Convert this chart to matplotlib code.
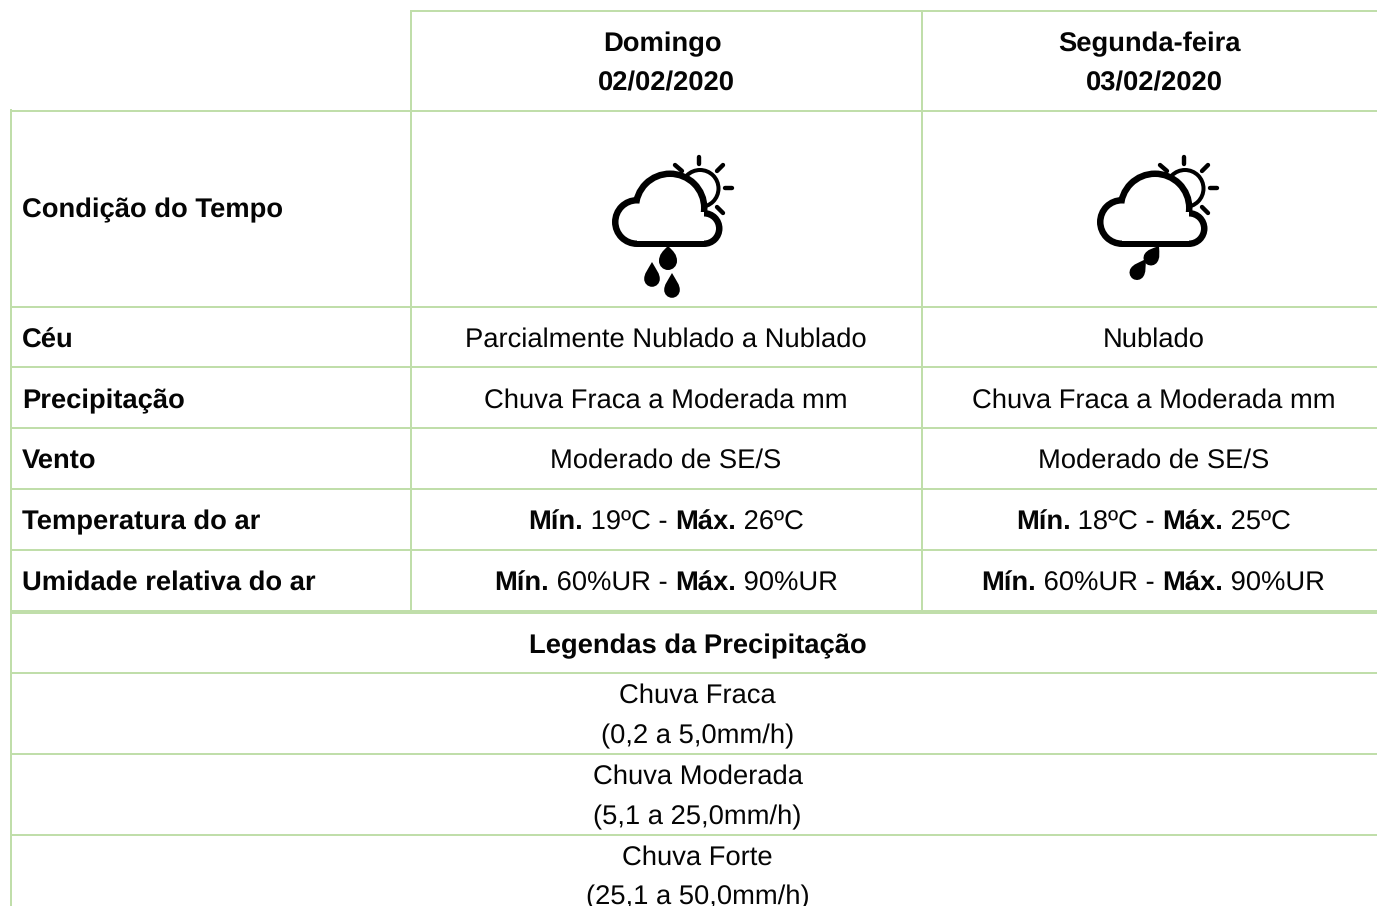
import matplotlib
matplotlib.use("Agg")
import matplotlib.pyplot as plt
from matplotlib.patches import Circle, Rectangle, PathPatch
from matplotlib.path import Path
import numpy as np

W, H = 1377, 906
LINE = "#c0deaa"
TXT = "#050505"
FS = 27.35 * 0.72

row_labels = ["Céu", "Precipitação", "Vento", "Temperatura do ar", "Umidade relativa do ar"]
ceu = ["Parcialmente Nublado a Nublado", "Nublado"]
precip = ["Chuva Fraca a Moderada mm", "Chuva Fraca a Moderada mm"]
vento = ["Moderado de SE/S", "Moderado de SE/S"]
temp_min = ["19ºC", "18ºC"]
temp_max = ["26ºC", "25ºC"]
ur_min = ["60%UR", "60%UR"]
ur_max = ["90%UR", "90%UR"]
legend_title = "Legendas da Precipitação"
legend_names = ["Chuva Fraca", "Chuva Moderada", "Chuva Forte"]
legend_ranges = ["(0,2 a 5,0mm/h)", "(5,1 a 25,0mm/h)", "(25,1 a 50,0mm/h)"]

plt.rcParams["font.family"] = ["Liberation Sans", "DejaVu Sans"]
plt.rcParams["text.hinting"] = "no_hinting"
fig = plt.figure(figsize=(W / 100, H / 100), dpi=100)
ax = fig.add_axes([0, 0, 1, 1])
ax.set_xlim(0, W)
ax.set_ylim(H, 0)
ax.axis("off")


def px(n):
    return n * 0.72


# table grid
def hline(y, x0, x1=W, lw=2):
    ax.add_patch(Rectangle((x0, y - lw / 2), x1 - x0, lw, color=LINE, lw=0))


def vline(x, y0, y1, lw=2):
    ax.add_patch(Rectangle((x - lw / 2, y0), lw, y1 - y0, color=LINE, lw=0))


vline(11, 109, H)
vline(411, 10, 611)
vline(922, 10, 611)
hline(11, 410)
for y in [110.5, 306.5, 367, 428, 489, 550]:
    hline(y, 10)
hline(611.5, 10, lw=4)
for y in [672.5, 753.5, 834.5]:
    hline(y, 10)


def put(x, y, s, bold=False, ha="center"):
    return ax.text(x, y, s, fontsize=FS, color=TXT, ha=ha, va="baseline",
                   fontweight="bold" if bold else "normal", clip_on=False)


# centered line with bold and regular parts
def runs(cx, y, parts):
    r = fig.canvas.get_renderer()
    widths = []
    for s, b in parts:
        t = put(0, y, s.replace(" ", "\u00a0"), b, "left")
        widths.append(t.get_window_extent(r).width)
        t.remove()
    x = cx - sum(widths) / 2
    for (s, b), w in zip(parts, widths):
        put(x, y, s.replace(" ", "\u00a0"), b, "left")
        x += w


def drop(tip, c, r):
    tip = np.array(tip, float)
    c = np.array(c, float)
    d = (tip - c) / np.linalg.norm(tip - c)
    n = np.array([-d[1], d[0]])
    k = 0.55 * r
    verts = [tip,
             c + n * r * 0.6 + d * r * 1.1, c + n * r + d * k * 1.3, c + n * r,
             c + n * r - d * k, c - d * r + n * k, c - d * r,
             c - d * r - n * k, c - n * r - d * k, c - n * r,
             c - n * r + d * k * 1.3, c - n * r * 0.6 + d * r * 1.1, tip]
    codes = [Path.MOVETO] + [Path.CURVE4] * 12
    ax.add_patch(PathPatch(Path(verts, codes), fc="black", ec="none", zorder=5))


def icon(dx, drops):
    # sun and rays
    ax.add_patch(Circle((700 + dx, 188.5), 18.5, fc="white", ec="black", lw=px(4), zorder=2))
    rays = [((699, 157), (699, 164)), ((717, 171), (723, 165)), ((725, 188), (732, 188)),
            ((717, 207), (723, 213)), ((675, 165), (682, 171))]
    for a, b in rays:
        ax.plot([a[0] + dx, b[0] + dx], [a[1], b[1]], color="black", lw=px(4.4),
                solid_capstyle="round", zorder=2)
    # cloud, black shape first then white shape on top
    lobes = [(637, 222, 25), (670, 208, 37.5), (704, 228.5, 18.5)]
    for cx, cy, r in lobes:
        ax.add_patch(Circle((cx + dx, cy), r, fc="black", ec="none", zorder=3))
    for cx, cy, r in lobes:
        ax.add_patch(Circle((cx + dx, cy), r - 6.5, fc="white", ec="none", zorder=4))
    ax.add_patch(Rectangle((637 + dx, 215), 67, 32, fc="black", ec="none", zorder=3))
    ax.add_patch(Rectangle((637 + dx, 212), 67, 28.5, fc="white", ec="none", zorder=4))
    for d in drops:
        drop(d[0], d[1], d[2])


icon(0, [((668, 246), (668, 261), 9), ((652, 262), (652, 279), 7.8), ((672, 273), (672, 290), 7.8)])
icon(485, [((1159, 246), (1151, 258), 7.5), ((1146, 259), (1137, 272.5), 7.5)])

# header
put(662, 51, "Domingo", True)
put(666, 90, "02/02/2020", True)
put(1149.5, 51, "Segunda-feira", True)
put(1154, 90, "03/02/2020", True)

# row labels
put(22, 217, "Condição do Tempo", True, "left")
row_y = [347, 408, 468, 529, 590]
label_y = [347.4, 408, 468, 529, 590]
for y, s in zip(label_y, row_labels):
    put(22, y, s, True, "left")

col_x = [666, 1153.5]
for i, cx in enumerate(col_x):
    put(cx, row_y[0], ceu[i])
    put(cx, row_y[1], precip[i])
    put(cx, row_y[2], vento[i])
    runs(cx, row_y[3] + 0.4, [("Mín.", True), (" " + temp_min[i] + " - ", False), ("Máx.", True), (" " + temp_max[i], False)])
    runs(cx, row_y[4] + 0.4, [("Mín.", True), (" " + ur_min[i] + " - ", False), ("Máx.", True), (" " + ur_max[i], False)])

# legend
put(697.5, 653, legend_title, True)
name_y = [703, 784, 865]
range_y = [743, 824, 904]
for a, b, s1, s2 in zip(name_y, range_y, legend_names, legend_ranges):
    put(697.5, a, s1)
    put(697.5, b, s2)

fig.savefig("out.png", dpi=100)
